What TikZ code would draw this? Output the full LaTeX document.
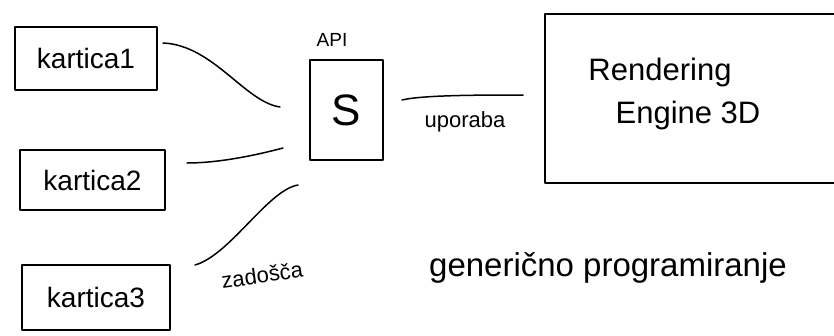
\documentclass[tikz,border=0pt]{standalone}
\usepackage{fontspec}
\setmainfont{Liberation Sans}
\usetikzlibrary{calc}
\begin{document}
\begin{tikzpicture}[x=1pt,y=-1pt,
  every node/.style={inner sep=0pt, outer sep=0pt},
  box/.style={draw=black, line width=1.5pt, line join=round},
  conn/.style={draw=black, line width=1.5pt, line cap=round},
  lbl/.style={text=black, anchor=center}]
\useasboundingbox (0,0) rectangle (834,335);
\clip (0,0) rectangle (834,335);
% boxes
\node[box, minimum width=142pt, minimum height=63pt, font=\fontsize{28}{30}\selectfont] (k1) at (86,58.5) {kartica1};
\node[box, minimum width=145pt, minimum height=60pt, font=\fontsize{28}{30}\selectfont] (k2) at (92.5,180) {kartica2};
\node[box, minimum width=148pt, minimum height=65pt, font=\fontsize{28}{30}\selectfont] (k3) at (96,297.5) {kartica3};
\node[box, minimum width=73pt, minimum height=100pt, font=\fontsize{44}{46}\selectfont] (api) at (346.5,110) {S};
\node[box, minimum width=310pt, minimum height=169pt] (eng) at (700,98.5) {};
% labels
\node[lbl, font=\fontsize{19}{22}\selectfont] (apil) at (332,40) {API};
\node[lbl, font=\fontsize{31}{34}\selectfont] (r1) at (660,72) {Rendering};
\node[lbl, font=\fontsize{31}{34}\selectfont] (r2) at (688,115) {Engine 3D};
\node[lbl, font=\fontsize{22}{24}\selectfont] (up) at (465,122) {uporaba};
\node[lbl, font=\fontsize{22}{24}\selectfont, rotate=8] (zd) at (262,275) {zadošča};
\node[lbl, font=\fontsize{33}{36}\selectfont] (gp) at (608,268) {generično programiranje};
% connectors
\draw[conn] ([shift={(6,-15.5)}]k1.east) .. controls +(50,2) and +(-35,-5) .. ([shift={(-30,-3)}]api.west);
\draw[conn] ([shift={(22,-17)}]k2.east) .. controls +(30,0) and +(-30,8) .. ([shift={(-27,38)}]api.west);
\draw[conn] ([shift={(25,-32.5)}]k3.east) .. controls +(35,-10) and +(-30,5) .. ([shift={(-12,25)}]api.south west);
\draw[conn] ([shift={(19,-10)}]api.east) .. controls +(20,-5) and +(-40,0) .. ([shift={(-22,-3.5)}]eng.west);
\end{tikzpicture}
\end{document}
